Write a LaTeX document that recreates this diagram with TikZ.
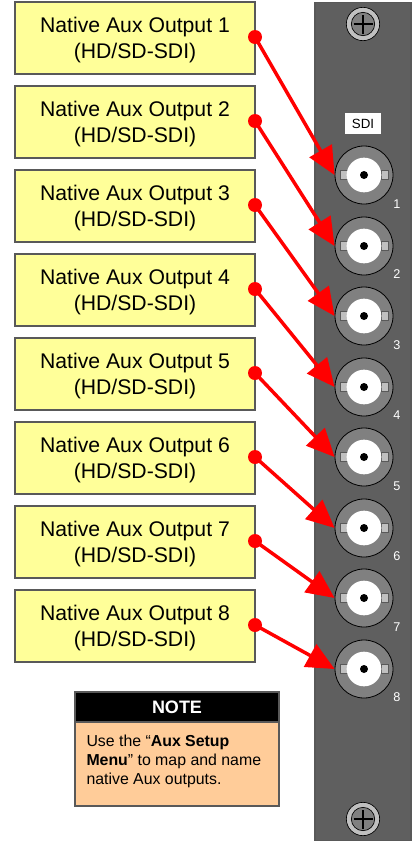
\documentclass[tikz,border=0pt]{standalone}
\usepackage{fontspec}
\setmainfont{Liberation Sans}
\usetikzlibrary{arrows.meta}

\definecolor{boxyellow}{RGB}{255,255,153}
\definecolor{noteorange}{RGB}{255,204,153}
\definecolor{panelgray}{RGB}{95,95,95}
\definecolor{ringgray}{RGB}{128,128,128}
\definecolor{tabgray}{RGB}{192,192,192}
\definecolor{edgegray}{RGB}{89,89,89}

\tikzset{every picture/.style={line width=0.75pt}}
\tikzset{
  outputbox/.style={draw=edgegray,fill=boxyellow,line width=0.9pt,minimum width=180pt,minimum height=54pt,inner sep=0pt,align=center,font=\fontsize{15.9}{19.5}\selectfont,execute at begin node=\rule{0pt}{33.4pt}},
  reddot/.style={circle,fill=red,minimum size=10.5pt,inner sep=0pt},
  redarrow/.style={draw=red,line width=2.6pt,-{Triangle[length=21pt,width=19pt]}},
  portnum/.style={text=white,inner sep=0pt,font=\fontsize{9.5}{11}\selectfont},
  bnc/.pic={
    \node[circle,draw=black,fill=ringgray,line width=0.6pt,minimum size=43.5pt,inner sep=0pt] (-outer) at (0,0) {};
    \node[draw=edgegray,fill=tabgray,line width=0.4pt,minimum width=5.5pt,minimum height=6.75pt,inner sep=0pt] (-tabl) at (-20.5,0) {};
    \node[draw=edgegray,fill=tabgray,line width=0.4pt,minimum width=5.5pt,minimum height=6.75pt,inner sep=0pt] (-tabr) at (20.5,0) {};
    \node[circle,fill=white,minimum size=26pt,inner sep=0pt] (-face) at (0,0) {};
    \node[circle,fill=black,minimum size=6pt,inner sep=0pt] (-pin) at (0,0) {};
  },
  screw/.pic={
    \node[circle,draw=black,fill=tabgray,line width=0.5pt,minimum size=25pt,inner sep=0pt] (-head) at (0,0) {};
    \node[circle,draw=black,fill=ringgray,line width=0.5pt,minimum size=17.5pt,inner sep=0pt] (-slot) at (0,0) {};
    \draw[line width=0.8pt] (-9.5,0) -- (9.5,0) (0,-9.5) -- (0,9.5);
  }
}

\begin{document}
\begin{tikzpicture}[x=0.75pt,y=0.75pt,yscale=-1,xscale=1]
\useasboundingbox (0,0) rectangle (413,843);

%Shape: Rectangle [id:panel]
\node[draw=edgegray,fill=panelgray,line width=0.9pt,minimum width=72pt,minimum height=629pt,inner sep=0pt] (panel) at (363,421.5) {};

% Text Node
\node[fill=white,minimum width=27pt,minimum height=16pt,inner sep=0pt,font=\fontsize{10}{12}\selectfont] (sdi) at (363,123.5) {SDI};

%Shape: Screws
\pic (screwtop) at (363,24) {screw};
\pic (screwbot) at (363,819) {screw};

%Shape: Connectors
\pic (conn1) at (364,175) {bnc};
\pic (conn2) at (364,246) {bnc};
\pic (conn3) at (364,316) {bnc};
\pic (conn4) at (364,387) {bnc};
\pic (conn5) at (364,457) {bnc};
\pic (conn6) at (364,528) {bnc};
\pic (conn7) at (364,598) {bnc};
\pic (conn8) at (364,669) {bnc};

% Text Node
\node[portnum] (num1) at (397,204) {1};
\node[portnum] (num2) at (397,274) {2};
\node[portnum] (num3) at (397,345) {3};
\node[portnum] (num4) at (397,415) {4};
\node[portnum] (num5) at (397,486) {5};
\node[portnum] (num6) at (397,556) {6};
\node[portnum] (num7) at (397,627) {7};
\node[portnum] (num8) at (397,697) {8};

%Shape: Output boxes
\node[outputbox] (out1) at (135,38) {Native Aux Output 1\\(HD/SD-SDI)};
\node[outputbox] (out2) at (135,122) {Native Aux Output 2\\(HD/SD-SDI)};
\node[outputbox] (out3) at (135,206) {Native Aux Output 3\\(HD/SD-SDI)};
\node[outputbox] (out4) at (135,290) {Native Aux Output 4\\(HD/SD-SDI)};
\node[outputbox] (out5) at (135,374) {Native Aux Output 5\\(HD/SD-SDI)};
\node[outputbox] (out6) at (135,458) {Native Aux Output 6\\(HD/SD-SDI)};
\node[outputbox] (out7) at (135,542) {Native Aux Output 7\\(HD/SD-SDI)};
\node[outputbox] (out8) at (135,626) {Native Aux Output 8\\(HD/SD-SDI)};

%Shape: Circles
\node[reddot] (dot1) at (255,37) {};
\node[reddot] (dot2) at (255,121) {};
\node[reddot] (dot3) at (255,205) {};
\node[reddot] (dot4) at (255,289) {};
\node[reddot] (dot5) at (255,373) {};
\node[reddot] (dot6) at (255,457) {};
\node[reddot] (dot7) at (255,541) {};
\node[reddot] (dot8) at (255,625) {};

%Straight Lines
\draw[redarrow] (dot1.center) -- (conn1-outer.west);
\draw[redarrow] (dot2.center) -- (conn2-outer.west);
\draw[redarrow] (dot3.center) -- (conn3-outer.west);
\draw[redarrow] (dot4.center) -- (conn4-outer.west);
\draw[redarrow] (dot5.center) -- (conn5-outer.west);
\draw[redarrow] (dot6.center) -- (conn6-outer.west);
\draw[redarrow] (dot7.center) -- (conn7-outer.west);
\draw[redarrow] (dot8.center) -- (conn8-outer.west);

%Shape: Note
\node[draw=edgegray,fill=noteorange,line width=0.9pt,minimum width=153pt,minimum height=85.5pt,inner sep=0pt] (notebody) at (177,749) {};
\node[draw=edgegray,fill=black,text=white,line width=0.9pt,minimum width=153pt,minimum height=22.5pt,inner sep=0pt,font=\fontsize{13.5}{16}\bfseries\selectfont] (notehead) at (177,707) {NOTE};
% Text Node
\node[anchor=north west,inner sep=0pt,align=left,font=\fontsize{11.9}{14.25}\selectfont] (notetext) at (86,734) {Use the “\textbf{Aux Setup}\\\textbf{Menu}” to map and name\\native Aux outputs.};

\end{tikzpicture}
\end{document}
